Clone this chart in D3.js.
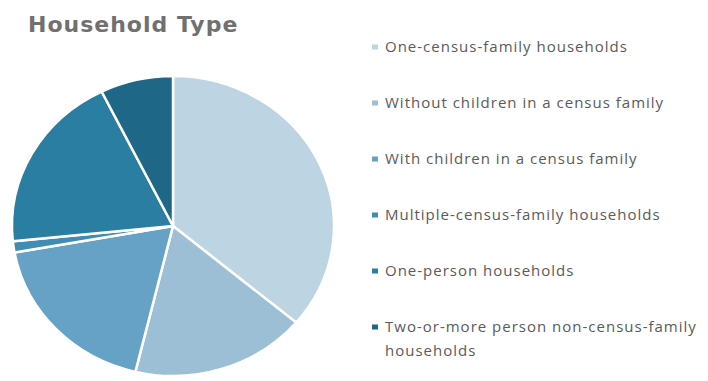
<!DOCTYPE html>
<html>
<head>
<meta charset="utf-8">
<script src="https://cdn.jsdelivr.net/npm/d3@7"></script>
<style>
  body { margin: 0; background: #fff; }
</style>
</head>
<body>
<script>
const width = 708;
const height = 381;

const categories = [
    "One-census-family households",
    "Without children in a census family",
    "With children in a census family",
    "Multiple-census-family households",
    "One-person households",
    "Two-or-more person non-census-family households"
];
const values = [36.1, 17.6, 18.4, 1.2, 19.3, 7.3];
const colors = ["#bdd4e2", "#9dbfd6", "#65a2c6", "#3f8cb4", "#2a7ea2", "#1f6787"];

const svg = d3.select("body").append("svg")
    .attr("width", width)
    .attr("height", height);

svg.append("text")
    .attr("x", 28)
    .attr("y", 32)
    .attr("font-family", "DejaVu Sans")
    .attr("font-weight", "bold")
    .attr("font-size", 22)
    .attr("letter-spacing", 1)
    .attr("fill", "#707070")
    .text("Household Type");

// pie is slightly wider than tall in the picture
const rx = 161, ry = 150;
const pie = d3.pie().sort(null).value(d => d);
const arc = d3.arc().innerRadius(0).outerRadius(ry);

const g = svg.append("g")
    .attr("transform", "translate(173,226) scale(" + (rx / ry) + ",1)");

g.selectAll("path")
    .data(pie(values))
    .join("path")
    .attr("d", arc)
    .attr("fill", (d, i) => colors[i])
    .attr("stroke", "#fff")
    .attr("stroke-width", 2.5)
    .attr("vector-effect", "non-scaling-stroke");

const legendY = d3.scalePoint()
    .domain(categories)
    .range([47, 327]);

const legend = svg.append("g")
    .selectAll("g")
    .data(categories)
    .join("g")
    .attr("transform", d => "translate(372," + legendY(d) + ")");

legend.append("rect")
    .attr("x", 0)
    .attr("y", -2.5)
    .attr("width", 6)
    .attr("height", 5)
    .attr("fill", (d, i) => colors[i]);

legend.append("text")
    .attr("x", 13)
    .attr("dy", "0.35em")
    .attr("font-family", "Open Sans")
    .attr("font-size", 15)
    .attr("letter-spacing", 1)
    .attr("fill", "#5a5a5a")
    .each(function (d) {
        const t = d3.select(this);
        if (d.length > 40) {
            t.append("tspan").attr("x", 13).text("Two-or-more person non-census-family");
            t.append("tspan").attr("x", 13).attr("dy", 24).text("households");
        } else {
            t.text(d);
        }
    });
</script>
</body>
</html>
